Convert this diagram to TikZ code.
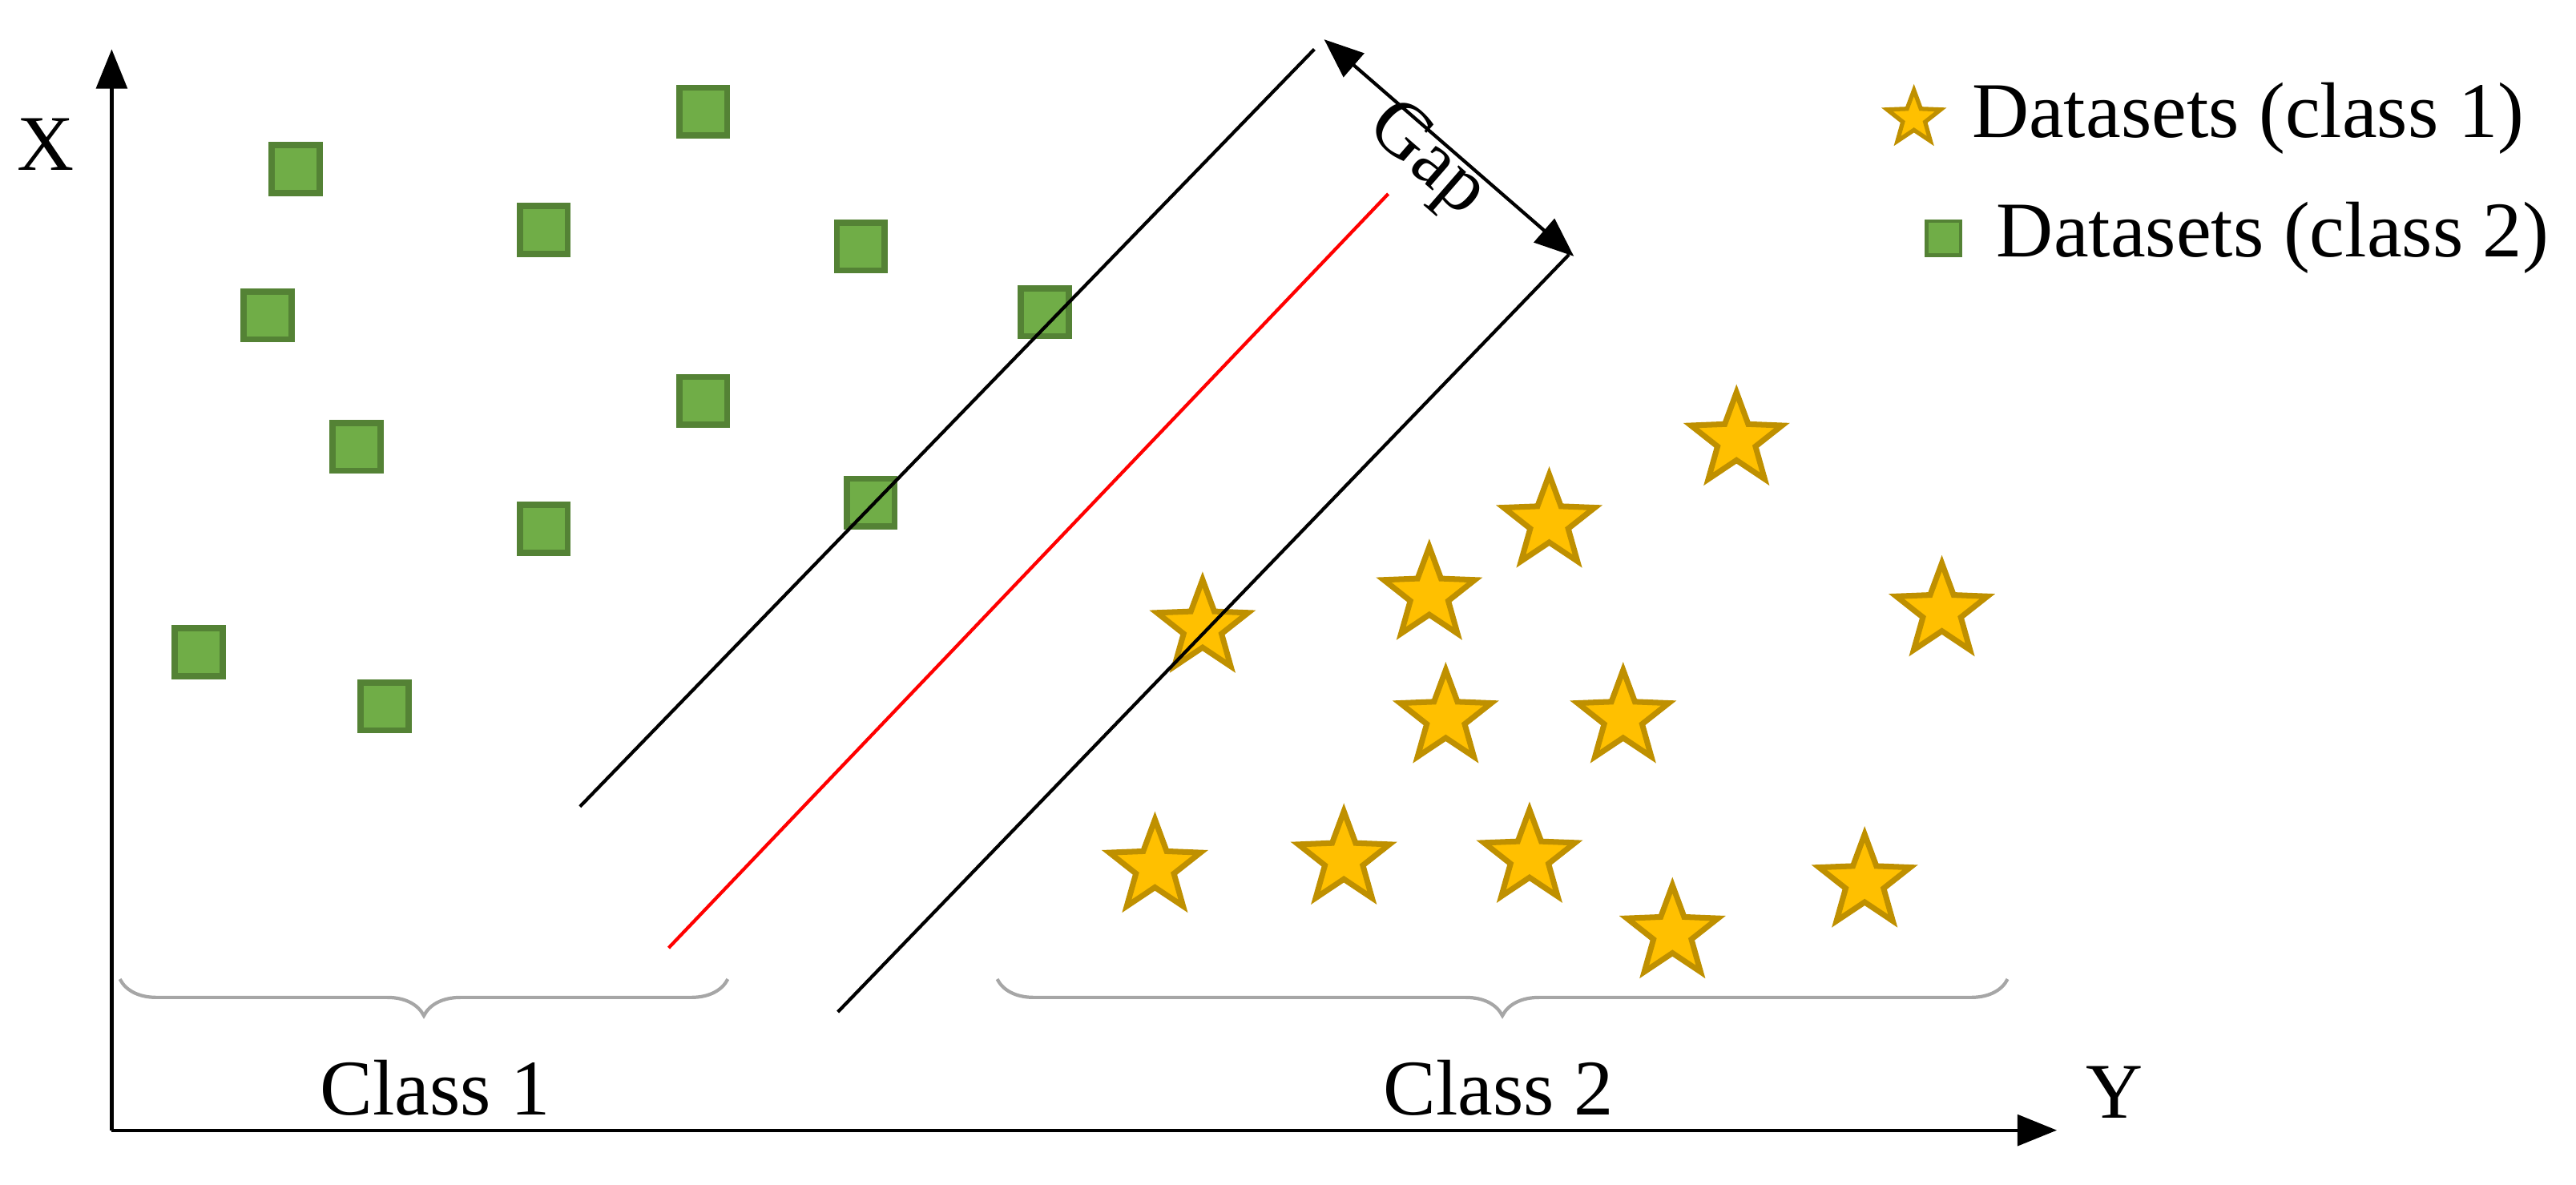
\documentclass[tikz,border=0pt]{standalone}
\usepackage{fontspec}
\setmainfont{Liberation Serif}
\usetikzlibrary{shapes.geometric,arrows.meta,decorations.pathreplacing}
\definecolor{sqfill}{HTML}{70AD47}
\definecolor{sqdraw}{HTML}{548235}
\definecolor{stfill}{HTML}{FFC000}
\definecolor{stdraw}{HTML}{BF9000}
\begin{document}
\begin{tikzpicture}[x=0.0205cm, y=-0.0205cm,
        sq/.style={rectangle, fill=sqfill, draw=sqdraw, line width=2.2pt, minimum size=17pt, inner sep=0pt},
        st/.style={star, star points=5, star point ratio=2.4, fill=stfill, draw=stdraw, line width=2pt, minimum size=34pt, inner sep=0pt},
        lbl/.style={font=\fontsize{28}{32}\selectfont, inner sep=0pt},
        axis/.style={-{Triangle[length=14pt,width=11pt]}, line width=1.2pt},
        brc/.style={decorate, decoration={brace, amplitude=13pt}, gray!70, line width=1.2pt}
    ]
    \useasboundingbox (0,0) rectangle (1568,721);
    % Axes
    \coordinate (o) at (68,688);
    \coordinate (xt) at (68,30);
    \coordinate (yt) at (1252,688);
    \draw[axis] (o) -- (xt);
    \draw[axis] (o) -- (yt);
    \node[lbl] (xl) at (28,88) {X};
    \node[lbl] (yl) at (1287,665) {Y};
    % Class 2 squares
    \foreach \n/\p in {s1/{180,103}, s2/{428,68}, s3/{331,140}, s4/{524,150},
        s5/{163,192}, s6/{636,190}, s7/{428,244}, s8/{217,272},
        s9/{530,306}, s10/{331,322}, s11/{121,397}, s12/{234,430}}
        \node[sq] (\n) at (\p) {};
    % Class 1 stars
    \foreach \n/\p in {t1/{1057,268}, t2/{943,318}, t3/{870,362}, t4/{732,382},
        t5/{1182,372}, t6/{880,437}, t7/{988,437}, t8/{703,528},
        t9/{818,523}, t10/{931,522}, t11/{1018,568}, t12/{1135,537}}
        \node[st] (\n) at (\p) {};
    % Margins and hyperplane
    \coordinate (ua) at (353,491); \coordinate (ub) at (800,30);
    \coordinate (ma) at (407,577); \coordinate (mb) at (845,118);
    \coordinate (la) at (510,616); \coordinate (lb) at (955,155);
    \draw[line width=1.2pt] (ua) -- (ub);
    \draw[red, line width=1.2pt] (ma) -- (mb);
    \draw[line width=1.2pt] (la) -- (lb);
    % Gap
    \coordinate (ga) at (806,24);
    \coordinate (gb) at (958,156);
    \draw[{Triangle[length=14pt,width=11pt]}-{Triangle[length=14pt,width=11pt]}, line width=1.2pt] (ga) -- (gb);
    \node[lbl, rotate=-41] (gap) at (868,98) {Gap};
    % Braces
    \coordinate (b1a) at (443,596); \coordinate (b1b) at (73,596);
    \coordinate (b2a) at (1222,596); \coordinate (b2b) at (607,596);
    \draw[brc] (b1a) -- (b1b);
    \draw[brc] (b2a) -- (b2b);
    \node[lbl] (c1) at (265,662) {Class 1};
    \node[lbl] (c2) at (912,662) {Class 2};
    % Legend
    \node[st, minimum size=20pt, line width=1.5pt] (lg1) at (1165,72) {};
    \node[lbl, anchor=west] (lt1) at (1200,72) {Datasets (class 1)};
    \node[sq, minimum size=12pt, line width=1.2pt] (lg2) at (1183,145) {};
    \node[lbl, anchor=west] (lt2) at (1215,145) {Datasets (class 2)};
\end{tikzpicture}
\end{document}
